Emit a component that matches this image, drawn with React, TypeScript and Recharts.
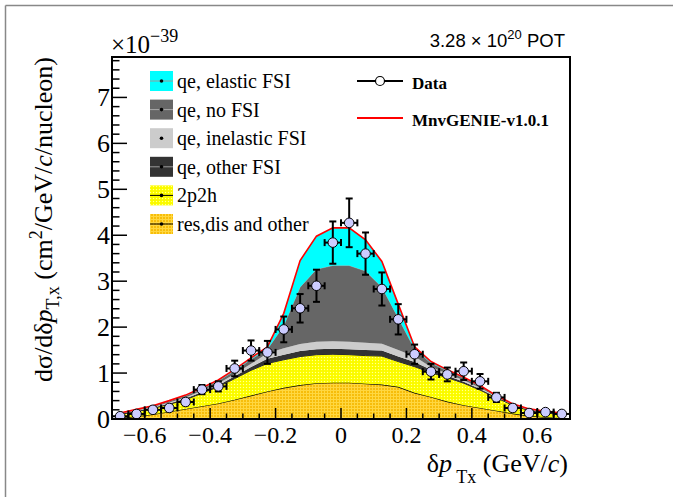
import React from 'react';
import {
  ComposedChart,
  Area,
  Line,
  Scatter,
  ErrorBar,
  XAxis,
  YAxis,
} from 'recharts';

// bin centres of delta p_Tx (GeV/c), 0.05 wide bins
const binCenters = [
  -0.675, -0.625, -0.575, -0.525, -0.475, -0.425, -0.375, -0.325, -0.275, -0.225,
  -0.175, -0.125, -0.075, -0.025, 0.025, 0.075, 0.125, 0.175, 0.225, 0.275,
  0.325, 0.375, 0.425, 0.475, 0.525, 0.575, 0.625, 0.675,
];

// MC components, units of 1e-39 cm^2/(GeV/c)/nucleon (stacked bottom -> top)
const resDisOther = [0.02, 0.06, 0.1, 0.16, 0.22, 0.28, 0.34, 0.42, 0.51, 0.6, 0.68, 0.74, 0.78, 0.79, 0.79, 0.77, 0.75, 0.7, 0.57, 0.48, 0.38, 0.3, 0.24, 0.18, 0.12, 0.07, 0.04, 0.02];
const twoP2h = [0.08, 0.1, 0.13, 0.16, 0.2, 0.28, 0.36, 0.46, 0.55, 0.61, 0.61, 0.62, 0.62, 0.62, 0.61, 0.61, 0.62, 0.55, 0.57, 0.53, 0.52, 0.48, 0.39, 0.28, 0.18, 0.11, 0.09, 0.08];
const qeOtherFsi = [0.008, 0.012, 0.015, 0.02, 0.025, 0.03, 0.037, 0.05, 0.07, 0.1, 0.11, 0.12, 0.12, 0.12, 0.12, 0.12, 0.12, 0.11, 0.1, 0.06, 0.042, 0.032, 0.025, 0.012, 0.008, 0.01, 0.01, 0.008];
const qeInelasticFsi = [0.008, 0.012, 0.015, 0.02, 0.025, 0.03, 0.037, 0.05, 0.07, 0.12, 0.14, 0.15, 0.16, 0.16, 0.16, 0.16, 0.15, 0.14, 0.12, 0.06, 0.042, 0.032, 0.025, 0.012, 0.008, 0.01, 0.01, 0.008];
const qeNoFsi = [0.01, 0.018, 0.02, 0.028, 0.035, 0.042, 0.053, 0.07, 0.1, 0.09, 0.49, 1.24, 1.58, 1.65, 1.66, 1.56, 1.23, 0.7, 0.16, 0.09, 0.06, 0.046, 0.035, 0.018, 0.01, 0.014, 0.014, 0.01];
const qeElasticFsi = [0.004, 0.008, 0.01, 0.012, 0.015, 0.018, 0.023, 0.03, 0.03, 0.05, 0.27, 0.58, 0.72, 0.82, 0.82, 0.68, 0.56, 0.3, 0.05, 0.03, 0.026, 0.02, 0.015, 0.008, 0.004, 0.006, 0.006, 0.004];

// measured cross section and total uncertainty
const dataXsec = [0.06, 0.11, 0.2, 0.24, 0.37, 0.64, 0.71, 1.1, 1.49, 1.45, 1.95, 2.41, 2.9, 3.84, 4.27, 3.6, 2.83, 2.17, 1.41, 1.03, 0.97, 1.04, 0.82, 0.47, 0.24, 0.13, 0.15, 0.11];
const dataErr = [0.04, 0.05, 0.06, 0.06, 0.07, 0.1, 0.11, 0.17, 0.22, 0.25, 0.28, 0.31, 0.35, 0.46, 0.53, 0.46, 0.36, 0.33, 0.21, 0.17, 0.15, 0.19, 0.16, 0.1, 0.07, 0.05, 0.05, 0.04];
const binHalfWidth = 0.025;

const xMajorTicks = [-0.6, -0.4, -0.2, 0, 0.2, 0.4, 0.6];
const xMajorLabels = ['\u22120.6', '\u22120.4', '\u22120.2', '0', '0.2', '0.4', '0.6'];
const yMajorTicks = [0, 1, 2, 3, 4, 5, 6, 7];

const xTicks = Array.from({ length: 27 }, (_, i) => Math.round((-0.65 + i * 0.05) * 100) / 100);
const yTicks = Array.from({ length: 40 }, (_, i) => Math.round(i * 0.2 * 10) / 10);

const mcRows = binCenters.map((x, i) => ({
  x,
  res: resDisOther[i],
  p2h: twoP2h[i],
  other: qeOtherFsi[i],
  inel: qeInelasticFsi[i],
  nofsi: qeNoFsi[i],
  elastic: qeElasticFsi[i],
  total:
    resDisOther[i] + twoP2h[i] + qeOtherFsi[i] + qeInelasticFsi[i] + qeNoFsi[i] + qeElasticFsi[i],
}));

const dataRows = binCenters.map((x, i) => ({
  x,
  y: dataXsec[i],
  yErr: dataErr[i],
  xErr: binHalfWidth,
}));

const SERIF = '"Liberation Serif", "Times New Roman", serif';
const SANS = '"Liberation Sans", Arial, sans-serif';

const W = 673;
const H = 497;
const PLOT = { left: 112, top: 57, right: 570, bottom: 419 };

const XTick = (props: any) => {
  const { x, y, payload } = props;
  const v = payload.value as number;
  const k = xMajorTicks.findIndex(t => Math.abs(t - v) < 1e-6);
  const major = k >= 0;
  return (
    <g>
      <line x1={x} x2={x} y1={y} y2={y - (major ? 11 : 5.5)} stroke="#000" strokeWidth={1.5} />
      {major && (
        <text x={x} y={y + 24} textAnchor="middle" fontSize={24} fontFamily={SERIF} fill="#000">
          {xMajorLabels[k]}
        </text>
      )}
    </g>
  );
};

const YTick = (props: any) => {
  const { x, y, payload } = props;
  const v = payload.value as number;
  const major = yMajorTicks.some(t => Math.abs(t - v) < 1e-6);
  return (
    <g>
      <line x1={x} x2={x + (major ? 15 : 7.5)} y1={y} y2={y} stroke="#000" strokeWidth={1.5} />
      {major && (
        <text x={x - 2} y={y + 9} textAnchor="end" fontSize={26} fontFamily={SERIF} fill="#000">
          {v}
        </text>
      )}
    </g>
  );
};

const DataMarker = (props: any) => (
  <circle cx={props.cx} cy={props.cy} r={4.8} fill="#ccccff" stroke="#000" strokeWidth={1} />
);

const mcLegend = [
  { label: 'qe, elastic FSI', fill: '#00ffff', line: '#9a9a9a' },
  { label: 'qe, no FSI', fill: '#666666', line: '#aaaaaa' },
  { label: 'qe, inelastic FSI', fill: '#cccccc', line: '#cccccc' },
  { label: 'qe, other FSI', fill: '#333333', line: '#999999' },
  { label: '2p2h', fill: 'url(#pat2p2h)', line: '#000000' },
  { label: 'res,dis and other', fill: 'url(#patRes)', line: '#000000' },
];

const Overlay = () => (
  <svg
    width={W}
    height={H}
    style={{ position: 'absolute', left: 0, top: 0, pointerEvents: 'none' }}
  >
    {/* canvas border */}
    <line x1={5.5} y1={5.5} x2={W} y2={5.5} stroke="#888" strokeWidth={1.5} />
    <line x1={5.5} y1={5.5} x2={5.5} y2={H} stroke="#888" strokeWidth={1.5} />

    {/* frame */}
    <rect
      x={PLOT.left}
      y={PLOT.top}
      width={PLOT.right - PLOT.left}
      height={PLOT.bottom - PLOT.top}
      fill="none"
      stroke="#000"
      strokeWidth={2}
    />

    {/* exponent */}
    <text x={111} y={53} fontFamily={SERIF} fontSize={25} fill="#000">
      ×10
      <tspan dy={-11} fontSize={18}>
        −39
      </tspan>
    </text>

    {/* exposure */}
    <text x={565} y={47} textAnchor="end" fontFamily={SANS} fontSize={18.5} fill="#000">
      3.28 × 10
      <tspan dy={-8} fontSize={13}>
        20
      </tspan>
      <tspan dy={8}> POT</tspan>
    </text>

    {/* y title */}
    <text
      transform="translate(52,57) rotate(-90)"
      textAnchor="end"
      fontFamily={SERIF}
      fontSize={26}
      fill="#000"
    >
      dσ/dδ<tspan fontStyle="italic">p</tspan>
      <tspan dy={7} fontSize={18}>
        T,x
      </tspan>
      <tspan dy={-7}>{'  '}(cm</tspan>
      <tspan dy={-10} fontSize={18}>
        2
      </tspan>
      <tspan dy={10}>/GeV/</tspan>
      <tspan fontStyle="italic">c</tspan>
      <tspan>/nucleon)</tspan>
    </text>

    {/* x title */}
    <text x={568} y={472} textAnchor="end" fontFamily={SERIF} fontSize={26} fill="#000">
      δ<tspan fontStyle="italic">p</tspan>
      <tspan dy={11} fontSize={18}>
        {' '}Tx
      </tspan>
      <tspan dy={-11}> (GeV/</tspan>
      <tspan fontStyle="italic">c</tspan>
      <tspan>)</tspan>
    </text>

    {/* MC legend */}
    {mcLegend.map((e, i) => {
      const cy = 81 + i * 28.6;
      return (
        <g key={e.label}>
          <rect x={150} y={cy - 10} width={23} height={20} fill={e.fill} />
          <line x1={150} x2={173} y1={cy} y2={cy} stroke={e.line} strokeWidth={1} />
          <circle cx={161.5} cy={cy} r={1.8} fill="#000" />
          <text x={177} y={cy + 7} fontFamily={SERIF} fontSize={20} fill="#000">
            {e.label}
          </text>
        </g>
      );
    })}

    {/* data / model legend */}
    <line x1={357} x2={403} y1={81} y2={81} stroke="#000" strokeWidth={2} />
    <circle cx={380} cy={81} r={4.5} fill="#fff" stroke="#000" strokeWidth={1.2} />
    <text x={412} y={89} fontFamily={SERIF} fontWeight="bold" fontSize={17} fill="#000">
      Data
    </text>
    <line x1={357} x2={403} y1={118} y2={118} stroke="#ff0000" strokeWidth={2} />
    <text x={412} y={126} fontFamily={SERIF} fontWeight="bold" fontSize={17} fill="#000">
      MnvGENIE-v1.0.1
    </text>
  </svg>
);

export default function App() {
  return (
    <div
      style={{
        position: 'absolute',
        left: 0,
        top: 0,
        width: W,
        height: H,
        background: '#fff',
      }}
    >
      <ComposedChart
        width={W}
        height={H}
        data={mcRows}
        margin={{ top: PLOT.top, right: W - PLOT.right, bottom: 0, left: 0 }}
      >
        <defs>
          <pattern id="pat2p2h" width={3} height={3} patternUnits="userSpaceOnUse">
            <rect width={3} height={3} fill="#ffff00" />
            <rect x={0} y={0} width={1} height={1} fill="#ffff99" />
            <rect x={1.5} y={1.5} width={1} height={1} fill="#e8e800" />
          </pattern>
          <pattern id="patRes" width={3} height={3} patternUnits="userSpaceOnUse">
            <rect width={3} height={3} fill="#f7bd0a" />
            <rect x={0} y={0} width={3} height={1} fill="#ffd740" />
            <rect x={0} y={0} width={1} height={3} fill="#ffd740" />
          </pattern>
        </defs>

        <Area type="linear" dataKey="res" stackId="mc" fill="url(#patRes)" fillOpacity={1} stroke="#000" strokeWidth={1.3} isAnimationActive={false} />
        <Area type="linear" dataKey="p2h" stackId="mc" fill="url(#pat2p2h)" fillOpacity={1} stroke="#222" strokeWidth={1} isAnimationActive={false} />
        <Area type="linear" dataKey="other" stackId="mc" fill="#333333" fillOpacity={1} stroke="none" isAnimationActive={false} />
        <Area type="linear" dataKey="inel" stackId="mc" fill="#cccccc" fillOpacity={1} stroke="none" isAnimationActive={false} />
        <Area type="linear" dataKey="nofsi" stackId="mc" fill="#666666" fillOpacity={1} stroke="#999" strokeWidth={0.8} isAnimationActive={false} />
        <Area type="linear" dataKey="elastic" stackId="mc" fill="#00ffff" fillOpacity={1} stroke="none" isAnimationActive={false} />
        <Line type="linear" dataKey="total" stroke="#ff0000" strokeWidth={1.6} dot={false} isAnimationActive={false} />

        <Scatter data={dataRows} dataKey="y" shape={DataMarker} isAnimationActive={false}>
          <ErrorBar dataKey="yErr" direction="y" width={3.5} stroke="#000" strokeWidth={2} />
          <ErrorBar dataKey="xErr" direction="x" width={3.5} stroke="#000" strokeWidth={2} />
        </Scatter>

        <XAxis
          dataKey="x"
          type="number"
          domain={[-0.7, 0.7]}
          ticks={xTicks}
          interval={0}
          height={H - PLOT.bottom}
          tickSize={0}
          tickMargin={0}
          axisLine={false}
          tickLine={false}
          tick={XTick}
          allowDataOverflow
        />
        <YAxis
          type="number"
          domain={[0, 7.88]}
          ticks={yTicks}
          interval={0}
          width={PLOT.left}
          tickSize={0}
          tickMargin={0}
          axisLine={false}
          tickLine={false}
          tick={YTick}
          allowDataOverflow
        />
      </ComposedChart>
      <Overlay />
    </div>
  );
}
